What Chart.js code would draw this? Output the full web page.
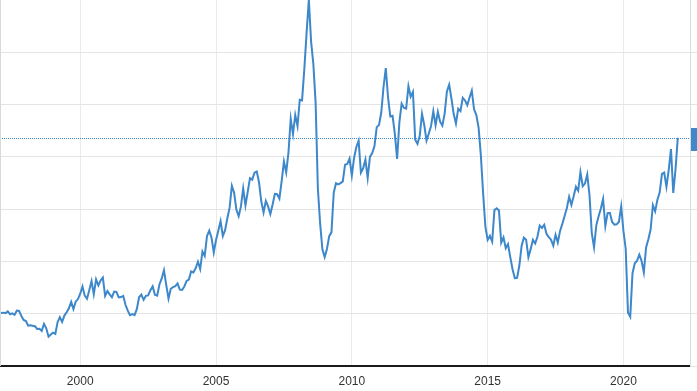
<!DOCTYPE html>
<html>
<head>
<meta charset="utf-8">
<script src="https://cdn.jsdelivr.net/npm/chart.js@4.4.1/dist/chart.umd.min.js"></script>
<style>
  html, body { margin: 0; padding: 0; background: #fff; }
  #wrap { width: 697px; height: 391px; overflow: hidden; }
</style>
</head>
<body>
<div id="wrap"><canvas id="oilChart" width="697" height="391"></canvas></div>
<script>
// WTI crude, month-end close, Feb 1997 .. Jan 2022 (USD/bbl)
const firstYear = 1997;
const firstMonth = 2;
const prices = [
  20.30, 20.41, 20.21, 20.88, 19.80, 20.14, 19.61, 21.18, 21.08, 19.15, 17.64,
  17.21, 15.44, 15.61, 15.39, 15.20, 14.18, 14.21, 13.39, 16.14, 14.42, 11.22, 12.05,
  12.75, 12.27, 16.76, 18.66, 16.84, 19.29, 20.53, 22.10, 24.51, 21.75, 24.59, 25.60,
  27.64, 30.43, 26.90, 25.74, 29.01, 32.50, 27.43, 33.12, 30.84, 32.70, 33.82, 26.80,
  28.66, 27.39, 26.29, 28.46, 28.37, 26.25, 26.35, 26.81, 23.43, 21.18, 19.44, 19.84,
  19.48, 21.74, 26.31, 27.29, 25.31, 26.86, 27.02, 28.98, 30.45, 27.22, 26.89, 31.20,
  33.51, 36.60, 31.04, 25.80, 29.56, 30.19, 30.54, 31.57, 29.20, 29.11, 30.41, 32.52,
  33.05, 36.16, 35.76, 37.38, 39.88, 37.05, 43.80, 42.12, 49.64, 51.76, 49.13, 43.45,
  48.20, 51.75, 55.40, 49.72, 51.97, 56.50, 60.57, 68.94, 66.24, 59.76, 57.32, 61.04,
  67.92, 61.41, 66.63, 71.88, 71.29, 73.93, 74.40, 70.26, 62.91, 58.73, 63.13, 61.05,
  58.14, 61.79, 65.87, 65.71, 64.01, 70.68, 78.21, 74.04, 81.66, 94.53, 88.71, 95.98,
  91.75, 101.84, 101.58, 113.46, 127.35, 140.00, 124.08, 115.46, 100.64, 67.81, 54.43, 44.60,
  41.68, 44.76, 49.66, 51.12, 66.31, 69.89, 69.45, 69.96, 70.61, 77.00, 77.28, 79.36,
  72.89, 79.66, 83.76, 86.15, 73.97, 75.63, 78.95, 71.92, 79.97, 81.43, 84.11, 91.38,
  92.19, 96.97, 106.72, 113.93, 102.70, 95.42, 95.70, 88.81, 79.20, 93.19, 100.36, 98.83,
  98.48, 107.07, 103.02, 104.87, 86.53, 84.96, 88.06, 96.47, 92.19, 86.24, 88.91, 91.82,
  97.49, 92.05, 97.23, 93.46, 91.97, 96.56, 105.03, 107.65, 102.33, 96.38, 92.72, 98.42,
  97.49, 102.59, 101.58, 99.74, 102.71, 105.37, 98.17, 95.96, 91.16, 80.54, 66.15, 53.27,
  48.24, 49.76, 47.60, 59.63, 60.30, 59.47, 47.12, 49.20, 45.09, 46.59, 41.65, 37.04,
  33.62, 33.75, 38.34, 45.92, 49.10, 48.33, 41.60, 44.70, 48.24, 46.86, 49.44, 53.72,
  52.81, 54.01, 50.60, 49.33, 48.32, 46.04, 50.17, 47.23, 51.67, 54.38, 57.40, 60.42,
  64.73, 61.64, 64.94, 68.57, 67.04, 74.15, 68.76, 69.80, 73.25, 65.31, 50.93, 45.41,
  53.79, 57.22, 60.14, 63.91, 53.50, 58.47, 58.58, 55.10, 54.07, 54.18, 55.17, 61.06,
  51.56, 44.76, 20.48, 18.84, 35.49, 39.27, 40.27, 42.61, 40.22, 35.79, 45.34, 48.52,
  52.20, 61.50, 59.16, 63.58, 66.32, 73.47, 73.95, 68.50, 75.03, 83.00, 66.18, 75.21,
  87.25
];
const yearTicks = [2000, 2005, 2010, 2015, 2020];
const valueTicks = [0, 20, 40, 60, 80, 100, 120, 140];

const lineColor = '#3d87cb';

const points = prices.map((v, i) => ({
  x: firstYear + (firstMonth - 1 + i) / 12,
  y: v
}));
const lastValue = prices[prices.length - 1];

// dotted last-value line, left border and the clipped value tag on the right
const extras = {
  id: 'extras',
  beforeDatasetsDraw(chart) {
    const { ctx, chartArea } = chart;
    const y = Math.round(chart.scales.y.getPixelForValue(lastValue)) + 0.5;
    ctx.save();
    ctx.strokeStyle = lineColor;
    ctx.lineWidth = 1;
    ctx.setLineDash([1, 1]);
    ctx.beginPath();
    ctx.moveTo(0, y);
    ctx.lineTo(chartArea.right, y);
    ctx.stroke();
    ctx.setLineDash([]);
    ctx.strokeStyle = '#d9d9d9';
    ctx.beginPath();
    ctx.moveTo(0.5, 0);
    ctx.lineTo(0.5, chartArea.bottom);
    ctx.stroke();
    ctx.restore();
  },
  afterDraw(chart) {
    const { ctx, chartArea, width } = chart;
    const y = chart.scales.y.getPixelForValue(lastValue);
    ctx.save();
    ctx.fillStyle = '#3f88c9';
    ctx.fillRect(chartArea.right + 1, Math.round(y - 10), width - chartArea.right, 23);
    ctx.restore();
  }
};

new Chart(document.getElementById('oilChart'), {
  type: 'line',
  data: {
    datasets: [{
      data: points,
      borderColor: lineColor,
      borderWidth: 2,
      pointRadius: 0,
      tension: 0,
      fill: false
    }]
  },
  options: {
    responsive: false,
    animation: false,
    devicePixelRatio: 1,
    parsing: false,
    layout: { padding: { left: 1, top: 0, right: 0, bottom: 0 } },
    plugins: {
      legend: { display: false },
      tooltip: { enabled: false }
    },
    scales: {
      x: {
        type: 'linear',
        min: firstYear + (firstMonth - 1) / 12,
        max: 2022.45,
        afterBuildTicks: (s) => { s.ticks = yearTicks.map(v => ({ value: v })); },
        afterFit: (s) => { s.height = 25; },
        grid: { color: '#ebebeb', drawTicks: false },
        border: { color: '#1a1a1a', width: 2 },
        ticks: {
          padding: 8,
          color: '#333',
          font: { family: 'Liberation Sans, Arial, sans-serif', size: 12 },
          callback: (v) => String(v)
        }
      },
      y: {
        position: 'right',
        min: 0,
        max: 140,
        afterBuildTicks: (s) => { s.ticks = valueTicks.map(v => ({ value: v })); },
        afterFit: (s) => { s.width = 7; },
        grid: {
          color: (c) => c.tick && c.tick.value === 140 ? 'rgba(0,0,0,0)' : '#e4e4e4',
          tickLength: 7
        },
        border: { color: '#dcdcdc', width: 1 },
        ticks: { display: false }
      }
    }
  },
  plugins: [extras]
});
</script>
</body>
</html>
